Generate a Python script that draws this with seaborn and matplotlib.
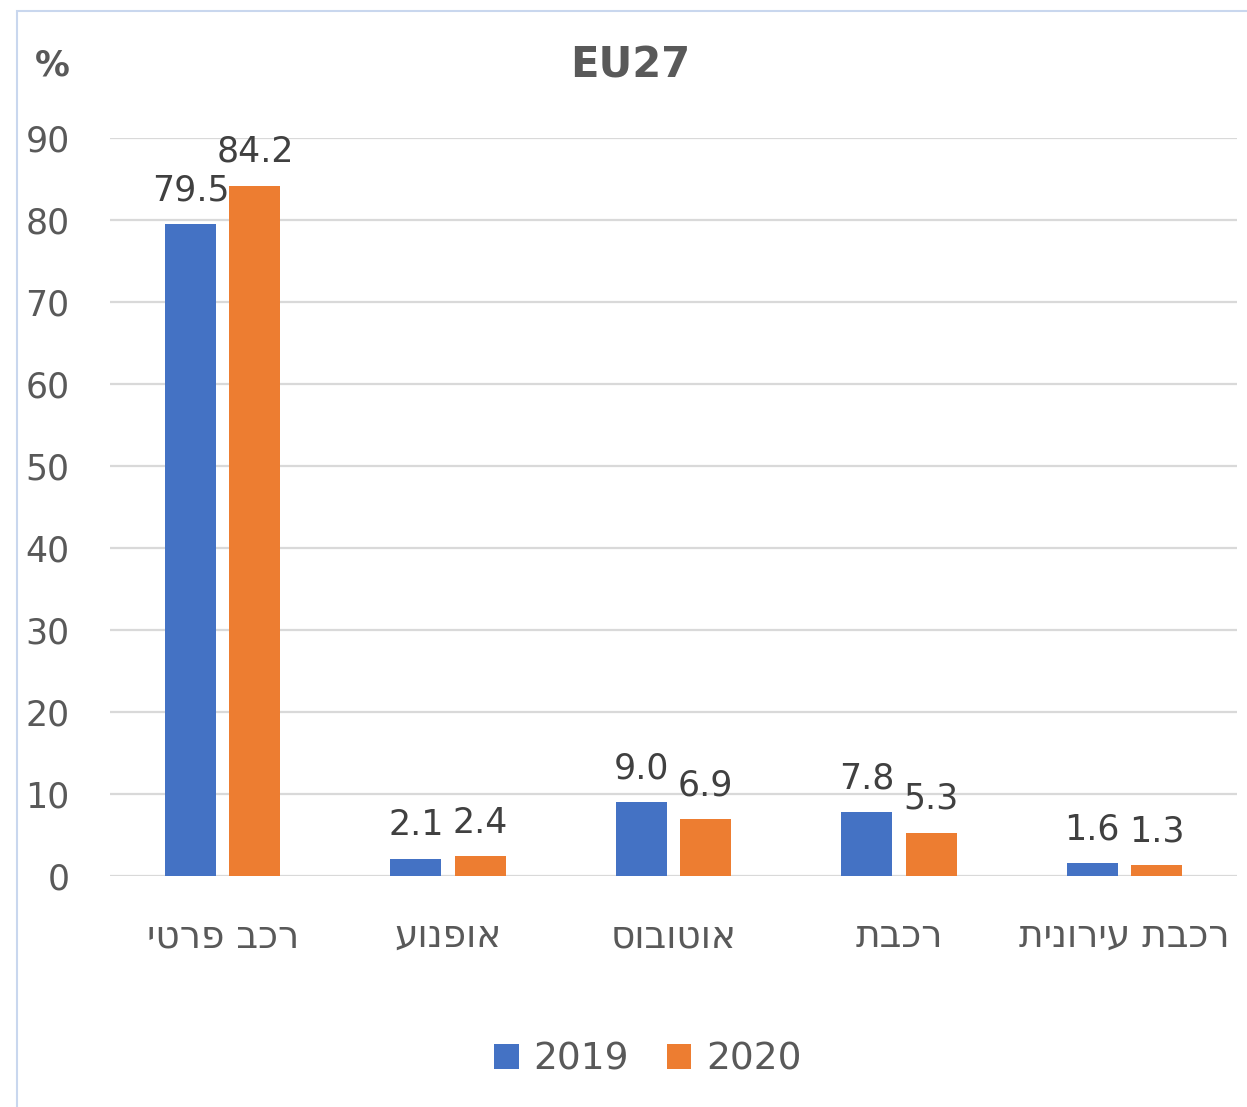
import pandas as pd
import matplotlib.pyplot as plt
import seaborn as sns
from matplotlib.patches import Rectangle

# data
categories = ['רכב פרטי', 'אופנוע', 'אוטובוס', 'רכבת', 'רכבת עירונית']
share_2019 = [79.5, 2.1, 9.0, 7.8, 1.6]
share_2020 = [84.2, 2.4, 6.9, 5.3, 1.3]
years = ['2019', '2020']
colors = ['#4472C4', '#ED7D31']

# matplotlib has no bidi support, so draw Hebrew in visual order
shown = [c[::-1] for c in categories]

df = pd.DataFrame({
    'cat': shown * 2,
    'year': [years[0]] * 5 + [years[1]] * 5,
    'value': share_2019 + share_2020,
})

sns.set_theme(style='white')
plt.rcParams['font.family'] = ['DejaVu Sans']
grey = '#595959'

fig = plt.figure(figsize=(12.47, 11.07), dpi=100)
ax = fig.add_axes([110 / 1247, 231 / 1107, 1127 / 1247, 738 / 1107])

sns.barplot(data=df, x='cat', y='value', hue='year', order=shown,
            hue_order=years, palette=colors, width=0.573, gap=0.21,
            saturation=1, linewidth=0, ax=ax, legend=True)

for cont in ax.containers:
    ax.bar_label(cont, fmt='%.1f', fontsize=25, color='#404040', padding=12)

ax.set_ylim(0, 90)
ax.set_xlim(-0.5, 4.5)
ax.set_yticks(range(0, 91, 10))
ax.yaxis.grid(True, color='#D9D9D9', lw=1.6)
ax.set_axisbelow(True)
for s in ax.spines.values():
    s.set_visible(False)
ax.tick_params(axis='y', length=0, pad=29, labelsize=25, labelcolor=grey)
ax.tick_params(axis='x', length=0, pad=31, labelsize=27, labelcolor=grey)
ax.set_xlabel('')
ax.set_ylabel('')

fig.text(52 / 1247, 1 - 65 / 1107, '%', ha='center', va='center',
         fontsize=25, fontweight='bold', color=grey)
fig.text(630 / 1247, 1 - 65 / 1107, 'EU27', ha='center', va='center',
         fontsize=30, fontweight='bold', color=grey)

handles, labels = ax.get_legend_handles_labels()
ax.get_legend().remove()
fig.legend(handles, labels, loc='center', bbox_to_anchor=(648 / 1247, 1 - 1060 / 1107),
           ncol=2, frameon=False, fontsize=27, labelcolor=grey,
           handlelength=0.65, handleheight=0.65, handletextpad=0.4, columnspacing=1.0)

# chart frame
fig.patches.append(Rectangle((17 / 1247, -0.1), 1.2, 1 - 11 / 1107 + 0.1,
                             transform=fig.transFigure, fill=False,
                             edgecolor='#C9D7EE', lw=1.5))

fig.savefig('out.png', dpi=100)
